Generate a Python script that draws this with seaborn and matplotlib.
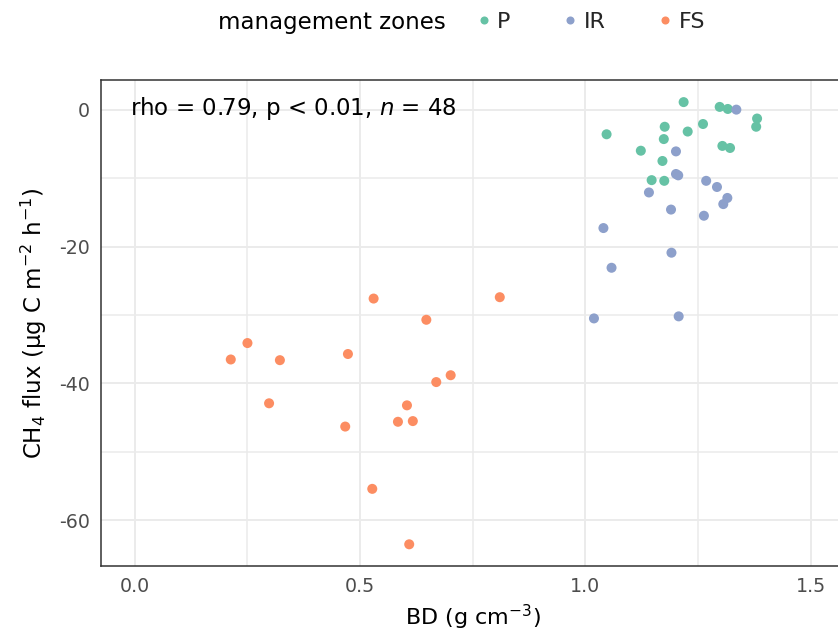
import numpy as np
import pandas as pd
import matplotlib
matplotlib.use("Agg")
import matplotlib.pyplot as plt
from matplotlib.ticker import MultipleLocator, FixedLocator
import seaborn as sns

# ---- data ----
P_bd = [1.218, 1.298, 1.316, 1.381, 1.379, 1.047, 1.176, 1.261, 1.227, 1.174,
        1.304, 1.321, 1.123, 1.171, 1.147, 1.175]
P_flux = [1.1, 0.4, 0.1, -1.3, -2.5, -3.6, -2.5, -2.1, -3.2, -4.3,
          -5.3, -5.6, -6.0, -7.5, -10.3, -10.4]
IR_bd = [1.335, 1.201, 1.201, 1.206, 1.268, 1.292, 1.141, 1.315, 1.306, 1.190,
         1.263, 1.040, 1.191, 1.058, 1.019, 1.207]
IR_flux = [0.0, -6.1, -9.4, -9.6, -10.4, -11.3, -12.1, -12.9, -13.8, -14.6,
           -15.5, -17.3, -20.9, -23.1, -30.5, -30.2]
FS_bd = [0.530, 0.810, 0.647, 0.250, 0.213, 0.322, 0.473, 0.701, 0.669, 0.298,
         0.604, 0.584, 0.617, 0.467, 0.527, 0.609]
FS_flux = [-27.6, -27.4, -30.7, -34.1, -36.5, -36.6, -35.7, -38.8, -39.8, -42.9,
           -43.2, -45.6, -45.5, -46.3, -55.4, -63.5]

zones = ["P", "IR", "FS"]
zone_colors = ["#66C2A5", "#8DA0CB", "#FC8D62"]
x_ticks = [0.0, 0.5, 1.0, 1.5]
x_ticklabels = ["0.0", "0.5", "1.0", "1.5"]
y_ticks = [0, -20, -40, -60]
y_ticklabels = ["0", "-20", "-40", "-60"]
annotation = r"rho = 0.79, p < 0.01, $\it{n}$ = 48"

df = pd.DataFrame({
    "BD": P_bd + IR_bd + FS_bd,
    "flux": P_flux + IR_flux + FS_flux,
    "zone": ["P"] * len(P_bd) + ["IR"] * len(IR_bd) + ["FS"] * len(FS_bd),
})

sns.set_theme(style="white")
plt.rcParams["font.family"] = ["DejaVu Sans"]
plt.rcParams["axes.unicode_minus"] = False
plt.rcParams["mathtext.fontset"] = "dejavusans"

W, H = 838, 642
fig = plt.figure(figsize=(W / 100, H / 100), dpi=100)
fig.patch.set_facecolor("white")
ax = fig.add_axes([101 / W, 76 / H, 743.5 / W, 486 / H])

sns.scatterplot(data=df, x="BD", y="flux", hue="zone", hue_order=zones,
                palette=dict(zip(zones, zone_colors)), s=52, linewidth=0,
                alpha=1, ax=ax, legend=True, zorder=3)

ax.set_xlim(-0.075, 1.575)
ax.set_ylim(-66.67, 4.33)
ax.xaxis.set_major_locator(FixedLocator(x_ticks))
ax.set_xticklabels(x_ticklabels)
ax.yaxis.set_major_locator(FixedLocator(y_ticks))
ax.set_yticklabels(y_ticklabels)
ax.xaxis.set_minor_locator(MultipleLocator(0.25))
ax.yaxis.set_minor_locator(MultipleLocator(10))

ax.set_axisbelow(True)
ax.grid(which="major", color="#EBEBEB", linewidth=1.4)
ax.grid(which="minor", color="#EBEBEB", linewidth=1.1)
ax.tick_params(which="major", direction="out", length=4.3, width=1.1,
               color="#333333", labelsize=13.7, labelcolor="#4D4D4D", pad=3.5)
ax.tick_params(which="minor", length=0)
for side in ["left", "bottom", "top"]:
    ax.spines[side].set_visible(True)
    ax.spines[side].set_color("#333333")
    ax.spines[side].set_linewidth(1.1)
ax.spines["right"].set_visible(False)

ax.set_xlabel(r"BD (g cm$^{-3}$)", fontsize=16, color="black", labelpad=5)
ax.set_ylabel("CH$_4$ flux (μg C m$^{-2}$ h$^{-1}$)", fontsize=16.5,
              color="black", labelpad=7)

ax.text((130 - 101) / 743.5, (566 - 108) / 486, annotation, transform=ax.transAxes,
        ha="left", va="center", fontsize=16.5, color="black", zorder=5)

# legend on top, horizontal, title to the left
handles, labels = ax.get_legend_handles_labels()
ax.get_legend().remove()
for h in handles:
    try:
        h.set_markersize(5.8)
    except Exception:
        pass
leg = fig.legend(handles, labels, loc="center left",
                 bbox_to_anchor=(478 / W, 1 - 22 / H), ncol=3, frameon=False,
                 fontsize=16, handlelength=0.5, handletextpad=0.35,
                 columnspacing=2.45, borderaxespad=0, borderpad=0)
fig.text(218 / W, 1 - 22 / H, "management zones", ha="left", va="center",
         fontsize=16.5, color="black")

fig.savefig("out.png", dpi=100, facecolor="white")
